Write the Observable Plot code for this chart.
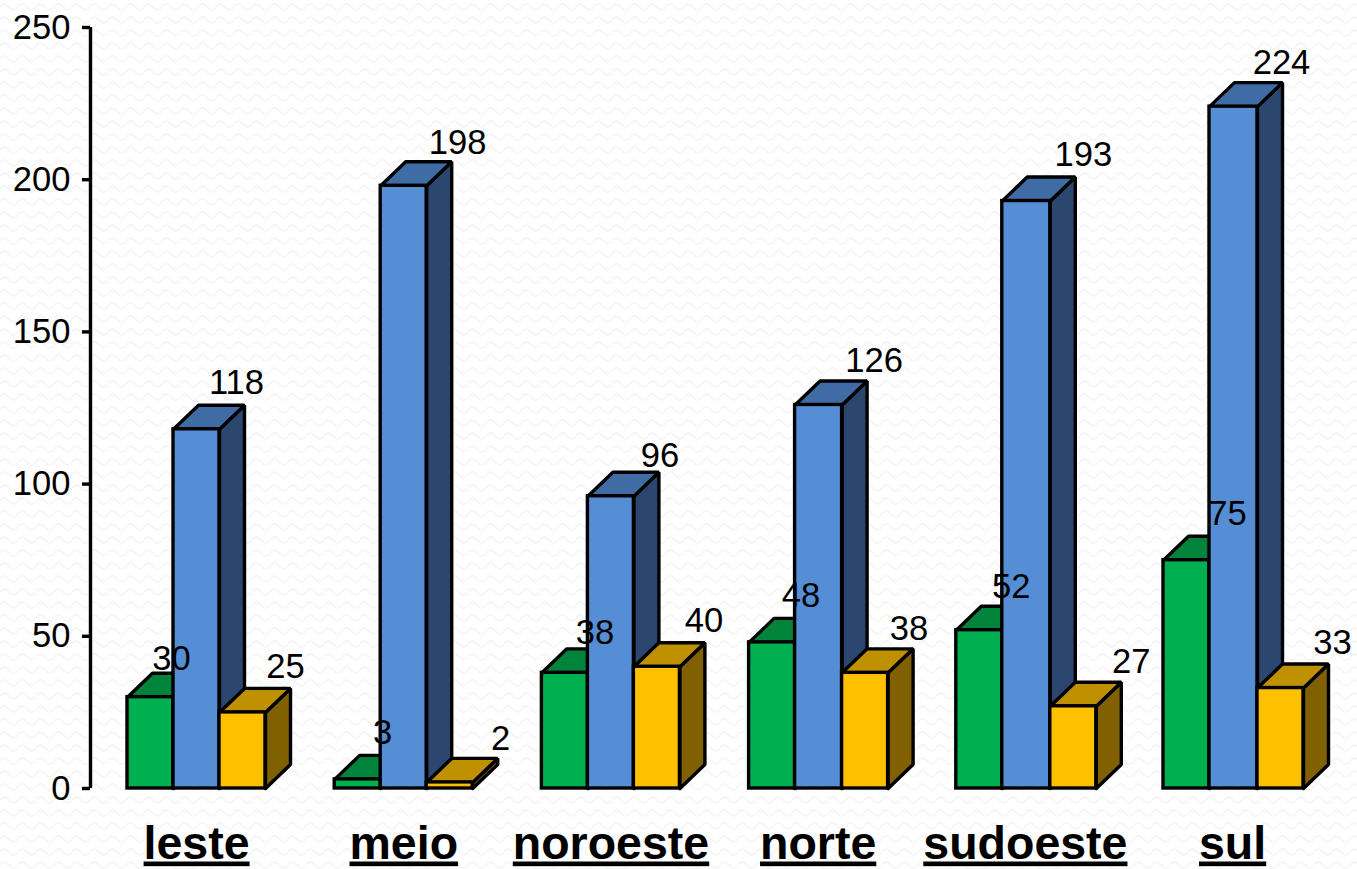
<!DOCTYPE html>
<html>
<head>
<meta charset="utf-8">
<script src="https://cdn.jsdelivr.net/npm/d3@7"></script>
<script src="https://cdn.jsdelivr.net/npm/@observablehq/plot@0.6"></script>
<style>
html,body{margin:0;padding:0;overflow:hidden;background-color:#fff;
background-image:url("data:image/svg+xml,%3Csvg xmlns='http://www.w3.org/2000/svg' width='18' height='13'%3E%3Cpath d='M0 7Q4.5 1 9 7T18 7' fill='none' stroke='%23f6f6f6' stroke-width='2'/%3E%3C/svg%3E");}
svg{display:block}
.cat text{text-decoration:underline;text-decoration-thickness:6px;text-underline-offset:8px}
</style>
</head>
<body>
<div id="chart"></div>
<script>
const categories = ["leste","meio","noroeste","norte","sudoeste","sul"];
const verde = [30,3,38,48,52,75];
const azul = [118,198,96,126,193,224];
const amarelo = [25,2,40,38,27,33];
const yTicks = [0,50,100,150,200,250];

// label nudges (px from the bar's top centre)
const nudgeVerde = [[21,-38],[25,-46],[30,-40],[29,-46],[32,-43],[41,-46]];
const nudgeAzul = [[40,-46],[54,-43],[49,-40],[56,-44],[58,-46],[49,-44]];
const nudgeAmarelo = [[43,-45],[51,-43],[47,-46],[45,-44],[60,-44],[54,-45]];
// the last bars sit slightly further right in some groups (px)
const edgeShift = [0,0,0,1,2,2];

const W = 1357, H = 869, mL = 90, mT = 27, mB = 81, band = 207.2;
const pxY = (869 - 27 - 81) / 250;
const first = 37 / band, barW = 46 / band, depthX = 25 / band, depthY = 24 / pxY;

const series = [
  {values: verde, nudge: nudgeVerde, front:"#00B050", top:"#00843C", side:"#00693A", left:0, right:0},
  {values: azul, nudge: nudgeAzul, front:"#558ED5", top:"#3F6CA5", side:"#2B4770", left:0, right:1},
  {values: amarelo, nudge: nudgeAmarelo, front:"#FFC000", top:"#BF9000", side:"#806000", left:1, right:1}
];

const marks = [];
const sw = 3.4;
series.forEach((s, k) => {
  const rows = s.values.map((v, i) => ({
    i, v,
    x1: i + first + k * barW + s.left * edgeShift[i] / band,
    x2: i + first + (k + 1) * barW + s.right * edgeShift[i] / band
  }));
  const side = rows.flatMap(r => [[r.x2,0],[r.x2+depthX,depthY],[r.x2+depthX,r.v+depthY],[r.x2,r.v],[r.x2,0]].map(p => ({id:r.i, x:p[0], y:p[1]})));
  const top = rows.flatMap(r => [[r.x1,r.v],[r.x1+depthX,r.v+depthY],[r.x2+depthX,r.v+depthY],[r.x2,r.v],[r.x1,r.v]].map(p => ({id:r.i, x:p[0], y:p[1]})));
  marks.push(
    Plot.line(side, {x:"x", y:"y", z:"id", fill:s.side, stroke:"black", strokeWidth:sw, curve:"linear", strokeLinejoin:"miter"}),
    Plot.line(top, {x:"x", y:"y", z:"id", fill:s.top, stroke:"black", strokeWidth:sw, curve:"linear", strokeLinejoin:"miter"}),
    Plot.rect(rows, {x1:"x1", x2:"x2", y1:0, y2:"v", fill:s.front, stroke:"black", strokeWidth:sw, inset:0})
  );
});

const labels = series.flatMap((s, k) => s.values.map((v, i) => ({
  text: String(v),
  x: i + first + (k + .5) * barW + s.nudge[i][0] / band,
  y: v - s.nudge[i][1] / pxY
})));

const chart = Plot.plot({
  width: W, height: H,
  marginLeft: mL, marginRight: W - mL - 6 * band, marginTop: mT, marginBottom: mB,
  style: {background:"transparent", overflow:"visible", fontFamily:"'Liberation Sans', Arial, sans-serif"},
  x: {domain:[0,6], axis:null},
  y: {domain:[0,250], axis:null},
  marks: [
    ...marks,
    Plot.ruleX([0], {stroke:"black", strokeWidth:3.4}),
    Plot.axisY({ticks:yTicks, tickSize:8, tickPadding:12, fontSize:34.6, label:null, stroke:"black", strokeWidth:3.4, color:"black", tickFormat:d=>String(d)}),
    Plot.text(labels, {x:"x", y:"y", text:"text", fontSize:34.6, fill:"black"}),
    Plot.axisX({anchor:"bottom", ticks:categories.map((c,i)=>i+.512), tickSize:0, tickPadding:37, fontSize:46.5, fontWeight:"bold", label:null, tickFormat:d=>categories[Math.floor(d)], className:"cat", fill:"black"})
  ]
});
document.getElementById("chart").append(chart);
</script>
</body>
</html>
